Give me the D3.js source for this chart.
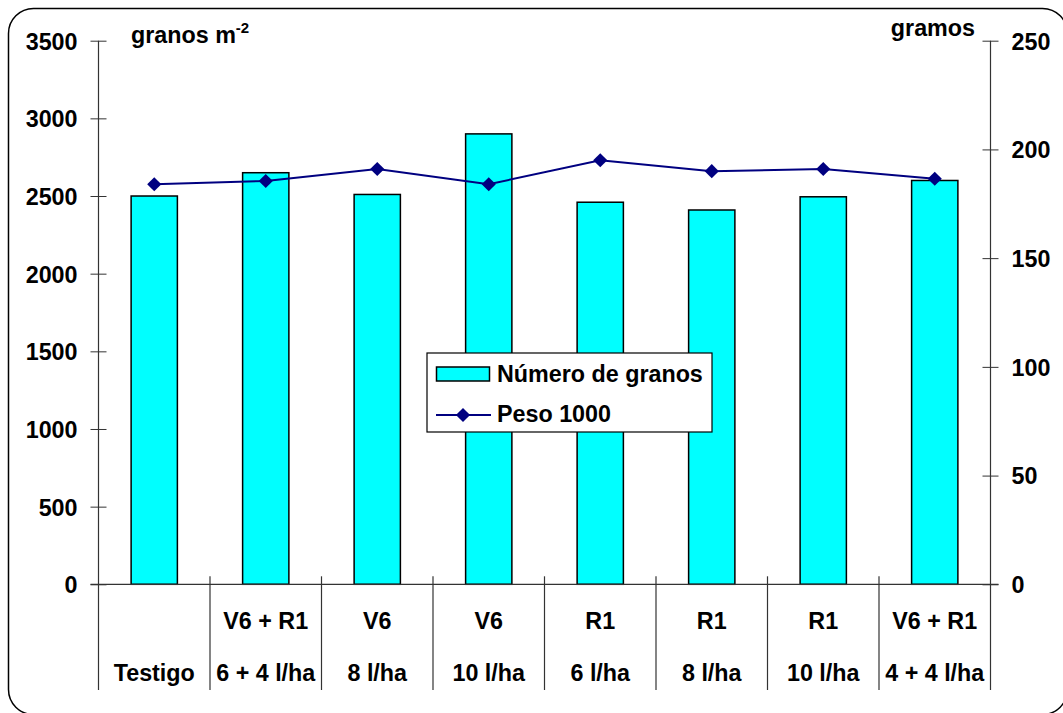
<!DOCTYPE html>
<html>
<head>
<meta charset="utf-8">
<script src="https://cdn.jsdelivr.net/npm/d3@7"></script>
<style>
  html, body { margin: 0; padding: 0; background: #fff; overflow: hidden; }
  svg { display: block; font-family: "Liberation Sans", Arial, sans-serif; font-weight: bold; }
</style>
</head>
<body>
<svg id="chart" width="1063" height="713"></svg>
<script>
// Treatments: application stage (top row) and dose (bottom row)
const stages = ["", "V6 + R1", "V6", "V6", "R1", "R1", "R1", "V6 + R1"];
const doses = ["Testigo", "6 + 4 l/ha", "8 l/ha", "10 l/ha", "6 l/ha", "8 l/ha", "10 l/ha", "4 + 4 l/ha"];
// Grain number per m2 (bars, left axis)
const grainNumber = [2500, 2650, 2510, 2900, 2460, 2410, 2495, 2600];
// Thousand-grain weight in grams (line, right axis)
const weight1000 = [184, 185.5, 191, 184, 195, 190, 191, 186.5];
const leftTicks = [0, 500, 1000, 1500, 2000, 2500, 3000, 3500];
const rightTicks = [0, 50, 100, 150, 200, 250];

(function () {
const svg = d3.select("#chart");
const plotLeft = 98.5, plotRight = 990.5, plotTop = 40.7, base = 584.3, labelBottom = 690;
const fs = 23.3;

// Rounded chart frame (runs past the right and bottom edges)
svg.append("rect")
  .attr("x", 8.5).attr("y", 8.5).attr("width", 1059).attr("height", 706)
  .attr("rx", 25).attr("ry", 25)
  .attr("fill", "#fff").attr("stroke", "#000").attr("stroke-width", 1.5);

const idx = d3.range(stages.length);
const x = d3.scaleBand().domain(idx).range([plotLeft, plotRight]).paddingInner(0).paddingOuter(0);
const yL = d3.scaleLinear().domain([0, 3500]).range([base, plotTop]);
const yR = d3.scaleLinear().domain([0, 250]).range([base, plotTop]);

const barW = x.bandwidth() * 0.415;

// Bars
svg.append("g").selectAll("rect").data(idx).join("rect")
  .attr("x", i => x(i) + (x.bandwidth() - barW) / 2)
  .attr("y", i => yL(grainNumber[i]))
  .attr("width", barW)
  .attr("height", i => yL(0) - yL(grainNumber[i]))
  .attr("fill", "#00FFFF").attr("stroke", "#000").attr("stroke-width", 1.5);

// Left axis
const gL = svg.append("g").attr("transform", `translate(${plotLeft},0)`)
  .call(d3.axisLeft(yL).tickValues(leftTicks).tickFormat(d3.format("d"))
    .tickSize(8).tickPadding(13).tickSizeOuter(0));
gL.select(".domain").remove();
gL.selectAll(".tick line").attr("x1", -8).attr("x2", 8).attr("stroke", "#333");
gL.selectAll(".tick text").attr("font-size", fs).attr("font-family", "Liberation Sans, Arial, sans-serif")
  .attr("font-weight", "bold").attr("fill", "#000").attr("dy", "0.36em");
svg.append("line").attr("x1", plotLeft).attr("x2", plotLeft).attr("y1", plotTop).attr("y2", labelBottom)
  .attr("stroke", "#333").attr("stroke-width", 1.2);

// Right axis
const gR = svg.append("g").attr("transform", `translate(${plotRight},0)`)
  .call(d3.axisRight(yR).tickValues(rightTicks).tickFormat(d3.format("d"))
    .tickSize(8).tickPadding(13).tickSizeOuter(0));
gR.select(".domain").remove();
gR.selectAll(".tick line").attr("x1", -8).attr("x2", 8).attr("stroke", "#333");
gR.selectAll(".tick text").attr("font-size", fs).attr("font-family", "Liberation Sans, Arial, sans-serif")
  .attr("font-weight", "bold").attr("fill", "#000").attr("dy", "0.36em");
svg.append("line").attr("x1", plotRight).attr("x2", plotRight).attr("y1", plotTop).attr("y2", labelBottom)
  .attr("stroke", "#333").attr("stroke-width", 1.2);

// Category baseline and separators
svg.append("line").attr("x1", plotLeft - 8).attr("x2", plotRight + 8).attr("y1", base).attr("y2", base)
  .attr("stroke", "#333").attr("stroke-width", 1.2);
svg.append("g").selectAll("line").data(idx.slice(1)).join("line")
  .attr("x1", i => x(i)).attr("x2", i => x(i))
  .attr("y1", base - 8).attr("y2", labelBottom)
  .attr("stroke", "#333").attr("stroke-width", 1.2);

// Category labels, two rows
const cats = svg.append("g").attr("font-size", fs).attr("text-anchor", "middle");
cats.selectAll("text.stage").data(idx).join("text").attr("class", "stage")
  .attr("x", i => x(i) + x.bandwidth() / 2).attr("y", 629).text(i => stages[i]);
cats.selectAll("text.dose").data(idx).join("text").attr("class", "dose")
  .attr("x", i => x(i) + x.bandwidth() / 2).attr("y", 681).text(i => doses[i]);

// Weight line with diamond markers
const line = d3.line().x(i => x(i) + x.bandwidth() / 2).y(i => yR(weight1000[i]));
svg.append("path").datum(idx).attr("d", line)
  .attr("fill", "none").attr("stroke", "#000080").attr("stroke-width", 2);
const diamond = d3.symbol().type(d3.symbolSquare).size(100);
svg.append("g").selectAll("path").data(idx).join("path")
  .attr("d", diamond)
  .attr("transform", i => `translate(${x(i) + x.bandwidth() / 2},${yR(weight1000[i])}) rotate(45)`)
  .attr("fill", "#000080");

// Axis titles
const tl = svg.append("text").attr("x", 131).attr("y", 43).attr("font-size", fs).text("granos m");
tl.append("tspan").attr("font-size", 15).attr("dy", -10).text("-2");
svg.append("text").attr("x", 975).attr("y", 36).attr("font-size", fs).attr("text-anchor", "end").text("gramos");

// Legend
const lg = svg.append("g");
lg.append("rect").attr("x", 427).attr("y", 353).attr("width", 285).attr("height", 79)
  .attr("fill", "#fff").attr("stroke", "#000").attr("stroke-width", 1.2);
lg.append("rect").attr("x", 436.5).attr("y", 367).attr("width", 53).attr("height", 14)
  .attr("fill", "#00FFFF").attr("stroke", "#000").attr("stroke-width", 1.5);
lg.append("text").attr("x", 497).attr("y", 382).attr("font-size", fs).text("Número de granos");
lg.append("line").attr("x1", 436).attr("x2", 491).attr("y1", 415).attr("y2", 415)
  .attr("stroke", "#000080").attr("stroke-width", 2);
lg.append("path").attr("d", diamond).attr("transform", "translate(463,415) rotate(45)").attr("fill", "#000080");
lg.append("text").attr("x", 497).attr("y", 422).attr("font-size", fs).text("Peso 1000");
})();
</script>
</body>
</html>
